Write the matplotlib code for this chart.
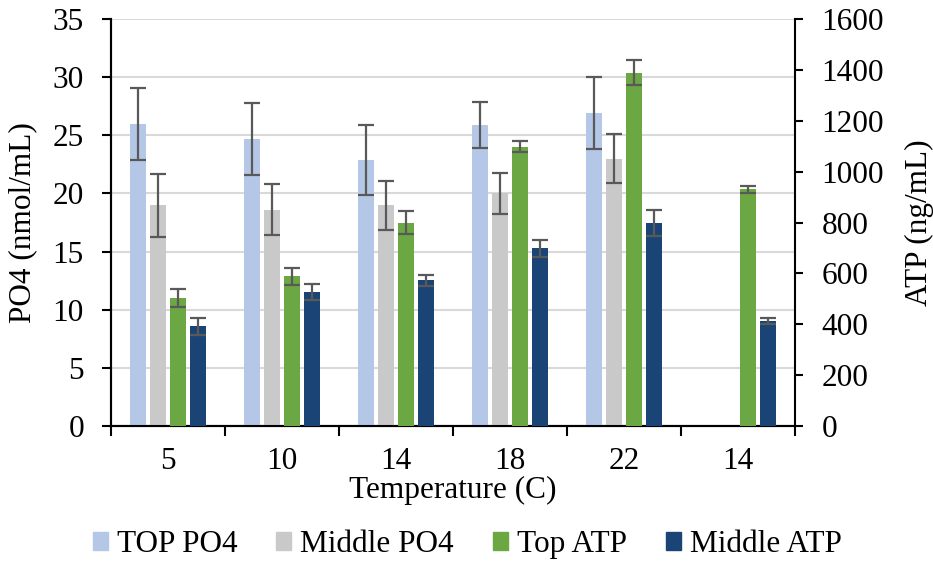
import numpy as np
import matplotlib.pyplot as plt
from matplotlib.patches import Patch

plt.rcParams['font.family'] = 'Liberation Serif'
plt.rcParams['font.size'] = 22.5

temps = ['5', '10', '14', '18', '22', '14']

# PO4 (nmol/mL), left axis -- last group has no PO4 data
top_po4 = [26.0, 24.7, 22.9, 25.9, 26.9, np.nan]
top_po4_err = [3.1, 3.1, 3.0, 2.0, 3.1, np.nan]
mid_po4 = [19.0, 18.6, 19.0, 20.0, 23.0, np.nan]
mid_po4_err = [2.7, 2.2, 2.1, 1.8, 2.1, np.nan]

# ATP (ng/mL), right axis
top_atp = [502, 588, 800, 1098, 1390, 930]
top_atp_err = [35, 33, 46, 21, 51, 13]
mid_atp = [392, 528, 573, 698, 800, 413]
mid_atp_err = [34, 31, 22, 33, 51, 11]

colors = ['#B4C7E7', '#C9C9C9', '#6BA743', '#1A4476']
labels = ['TOP PO4', 'Middle PO4', 'Top ATP', 'Middle ATP']

fig = plt.figure(figsize=(9.33, 5.62), dpi=100)
ax = fig.add_axes([0.119, 0.242, 0.733, 0.724])
ax2 = ax.twinx()

x = np.arange(len(temps))
w = 0.145
step = 0.176
offsets = [-1.5 * step, -0.5 * step, 0.5 * step, 1.5 * step]
ekw = dict(ecolor='#595959', elinewidth=1.6, capsize=5.5, capthick=1.6)

ax.bar(x + offsets[0], top_po4, w, color=colors[0], yerr=top_po4_err, error_kw=ekw, zorder=3)
ax.bar(x + offsets[1], mid_po4, w, color=colors[1], yerr=mid_po4_err, error_kw=ekw, zorder=3)
ax2.bar(x + offsets[2], top_atp, w, color=colors[2], yerr=top_atp_err, error_kw=ekw, zorder=3)
ax2.bar(x + offsets[3], mid_atp, w, color=colors[3], yerr=mid_atp_err, error_kw=ekw, zorder=3)

ax.set_ylim(0, 35)
ax.set_yticks(np.arange(0, 36, 5))
ax2.set_ylim(0, 1600)
ax2.set_yticks(np.arange(0, 1601, 200))
ax.set_xlim(-0.5, len(temps) - 0.5)

ax.grid(axis='y', color='#D9D9D9', linewidth=1.5, zorder=0)
ax.set_axisbelow(True)

# category boundaries as ticks, labels centred between them
ax.set_xticks(np.arange(-0.5, len(temps), 1.0))
ax.set_xticklabels([])
ax.set_xticks(x, minor=True)
ax.set_xticklabels(temps, minor=True)
ax.tick_params(axis='x', which='major', direction='out', length=7, width=1.5)
ax.tick_params(axis='x', which='minor', length=0, pad=15)
ax.tick_params(axis='y', direction='out', length=6.5, width=1.5, pad=13)
ax2.tick_params(axis='y', direction='out', length=6, width=1.5, pad=13)

for a in (ax, ax2):
    a.spines['top'].set_visible(False)
    for s in ('left', 'right', 'bottom'):
        a.spines[s].set_linewidth(1.5)
ax.spines['right'].set_visible(False)

ax.set_xlabel('Temperature (C)', va='center')
ax.xaxis.set_label_coords(0.5, -0.158)
ax.set_ylabel('PO4 (nmol/mL)', va='center')
ax.yaxis.set_label_coords(-0.129, 0.5)
ax2.set_ylabel('ATP (ng/mL)', va='center')
ax2.yaxis.set_label_coords(1.182, 0.5)

handles = [Patch(color=c) for c in colors]
fig.legend(handles, labels, loc='center', bbox_to_anchor=(0.501, 0.031), ncol=4,
           frameon=False, handlelength=0.48, handleheight=0.48, handletextpad=0.29,
           columnspacing=1.25, borderpad=0)

fig.savefig('out.png', dpi=100)
